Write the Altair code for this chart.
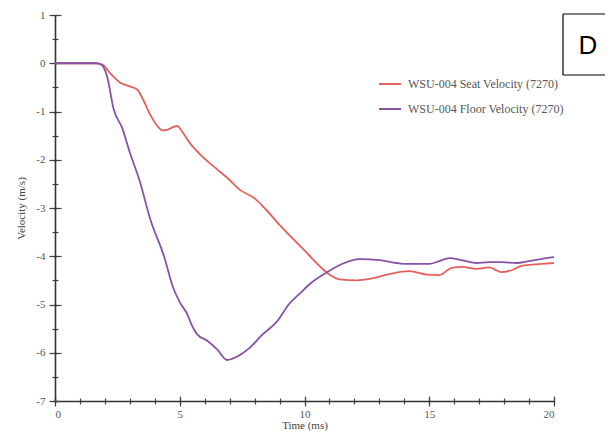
import altair as alt
import pandas as pd

seat_t = [0, 1.0, 1.6, 1.9, 2.2, 2.6, 3.0, 3.3, 3.5, 3.8, 4.1, 4.3, 4.5, 4.7, 4.9, 5.1, 5.4, 5.9,
          6.5, 7.0, 7.4, 8.0, 8.4, 9.0, 9.5, 10.0, 10.6, 11.0, 11.4, 12.1, 12.7, 13.4, 14.2, 14.9,
          15.4, 15.9, 16.3, 16.9, 17.4, 17.9, 18.3, 18.7, 19.5, 20.0]
seat_v = [0, 0, 0, -0.03, -0.2, -0.4, -0.48, -0.55, -0.72, -1.05, -1.3, -1.39, -1.38, -1.33, -1.3,
          -1.42, -1.65, -1.93, -2.2, -2.42, -2.62, -2.8, -3.0, -3.35, -3.62, -3.88, -4.2, -4.38,
          -4.48, -4.5, -4.46, -4.37, -4.31, -4.38, -4.39, -4.24, -4.22, -4.26, -4.23, -4.33, -4.29,
          -4.2, -4.16, -4.14]

floor_t = [0, 1.7, 1.9, 2.1, 2.35, 2.7, 3.0, 3.4, 3.8, 4.4, 4.7, 5.0, 5.3, 5.5, 5.7, 6.1, 6.5, 6.9,
           7.3, 7.8, 8.3, 8.9, 9.4, 9.8, 10.2, 11.0, 11.5, 12.2, 13.0, 13.7, 14.2, 15.0, 15.4, 15.8,
           16.3, 16.9, 17.4, 17.9, 18.5, 19.0, 19.7, 20.0]
floor_v = [0, 0, -0.05, -0.3, -0.95, -1.35, -1.85, -2.45, -3.2, -4.05, -4.6, -4.95, -5.2, -5.45,
           -5.62, -5.75, -5.93, -6.15, -6.08, -5.9, -5.63, -5.35, -4.98, -4.78, -4.58, -4.3, -4.16,
           -4.06, -4.08, -4.14, -4.16, -4.16, -4.1, -4.04, -4.08, -4.14, -4.12, -4.12, -4.14, -4.1,
           -4.04, -4.02]

series = ["WSU-004 Seat Velocity (7270)", "WSU-004 Floor Velocity (7270)"]
colors = ["#e5605a", "#8a52a6"]

x_major = [0, 5, 10, 15, 20]
x_minor = list(range(0, 21))
y_major = [1, 0, -1, -2, -3, -4, -5, -6, -7]
y_minor = [v / 2 for v in range(-14, 3)]
box_label = ["D"]

df = pd.concat([
    pd.DataFrame({"t": seat_t, "v": seat_v, "s": series[0], "o": range(len(seat_t))}),
    pd.DataFrame({"t": floor_t, "v": floor_v, "s": series[1], "o": range(len(floor_t))}),
])

FONT = "Liberation Serif"
LBL = "'' + datum.value"
xs = alt.Scale(domain=[0, 20], nice=False, zero=False)
ys = alt.Scale(domain=[-7, 1], nice=False, zero=False)

lines = alt.Chart(df).mark_line(strokeWidth=1.8, interpolate="monotone").encode(
    x=alt.X("t:Q", scale=xs, axis=alt.Axis(
        orient="bottom", values=x_major, labelExpr=LBL, domain=False, grid=False,
        tickSize=10, offset=-5, tickColor="#444", tickWidth=1.2,
        labelFont=FONT, labelFontSize=11, labelColor="#555", labelPadding=2,
        title="Time (ms)", titleFont=FONT, titleFontSize=11, titleFontWeight="normal",
        titleColor="#444", titlePadding=0)),
    y=alt.Y("v:Q", scale=ys, axis=alt.Axis(
        orient="left", values=y_major, labelExpr=LBL, domain=False, grid=False,
        tickSize=12, offset=-6, tickColor="#444", tickWidth=1.2,
        labelFont=FONT, labelFontSize=11, labelColor="#555", labelPadding=4,
        title="Velocity (m/s)", titleFont=FONT, titleFontSize=11, titleFontWeight="normal",
        titleColor="#444", titlePadding=9)),
    color=alt.Color("s:N", scale=alt.Scale(domain=series, range=colors), legend=alt.Legend(
        title=None, orient="none", legendX=323, legendY=57, symbolType="stroke",
        symbolStrokeWidth=2, symbolSize=484, rowPadding=7, labelOffset=6,
        labelFont=FONT, labelFontSize=12, labelColor="#555", labelLimit=300)),
    order="o:Q",
)

minor = alt.Chart(df).mark_point(opacity=0).encode(
    x=alt.X("t:Q", scale=xs, axis=alt.Axis(
        orient="bottom", values=x_minor, labels=False, domain=False, grid=False,
        tickSize=6, offset=-3, tickColor="#444", tickWidth=1.2, title=None)),
    y=alt.Y("v:Q", scale=ys, axis=alt.Axis(
        orient="left", values=y_minor, labels=False, domain=False, grid=False,
        tickSize=6, offset=-3, tickColor="#444", tickWidth=1.2, title=None)),
)

dom = alt.Chart(df).mark_point(opacity=0).encode(
    x=alt.X("t:Q", scale=xs, axis=alt.Axis(
        orient="bottom", labels=False, ticks=False, grid=False, domain=True,
        domainColor="#333", domainWidth=1.6, title=None)),
    y=alt.Y("v:Q", scale=ys, axis=alt.Axis(
        orient="left", labels=False, ticks=False, grid=False, domain=True,
        domainColor="#333", domainWidth=1.6, title=None)),
)

bdf = pd.DataFrame({"lab": box_label})
box_top = alt.Chart(bdf).mark_rule(color="black", strokeWidth=1.2).encode(
    x=alt.value(508), x2=alt.value(600), y=alt.value(-1))
box_bot = alt.Chart(bdf).mark_rule(color="black", strokeWidth=1.2).encode(
    x=alt.value(508), x2=alt.value(600), y=alt.value(60))
box_left = alt.Chart(bdf).mark_rule(color="black", strokeWidth=1.2).encode(
    x=alt.value(508), y=alt.value(-1), y2=alt.value(60))

boxtext = alt.Chart(bdf).mark_text(
    font="Liberation Sans", fontSize=26, color="black", align="center", baseline="middle"
).encode(x=alt.value(533), y=alt.value(31), text="lab:N")

chart = alt.layer(lines, minor, dom, box_top, box_bot, box_left, boxtext).resolve_scale(
    x="independent", y="independent"
).properties(
    width=499, height=386,
    autosize=alt.AutoSizeParams(type="none"),
    padding={"left": 47, "top": 7, "right": 51, "bottom": 31},
    background="white",
).configure_view(stroke=None)

chart.save("out.html", embed_options={"renderer": "svg", "actions": False})
